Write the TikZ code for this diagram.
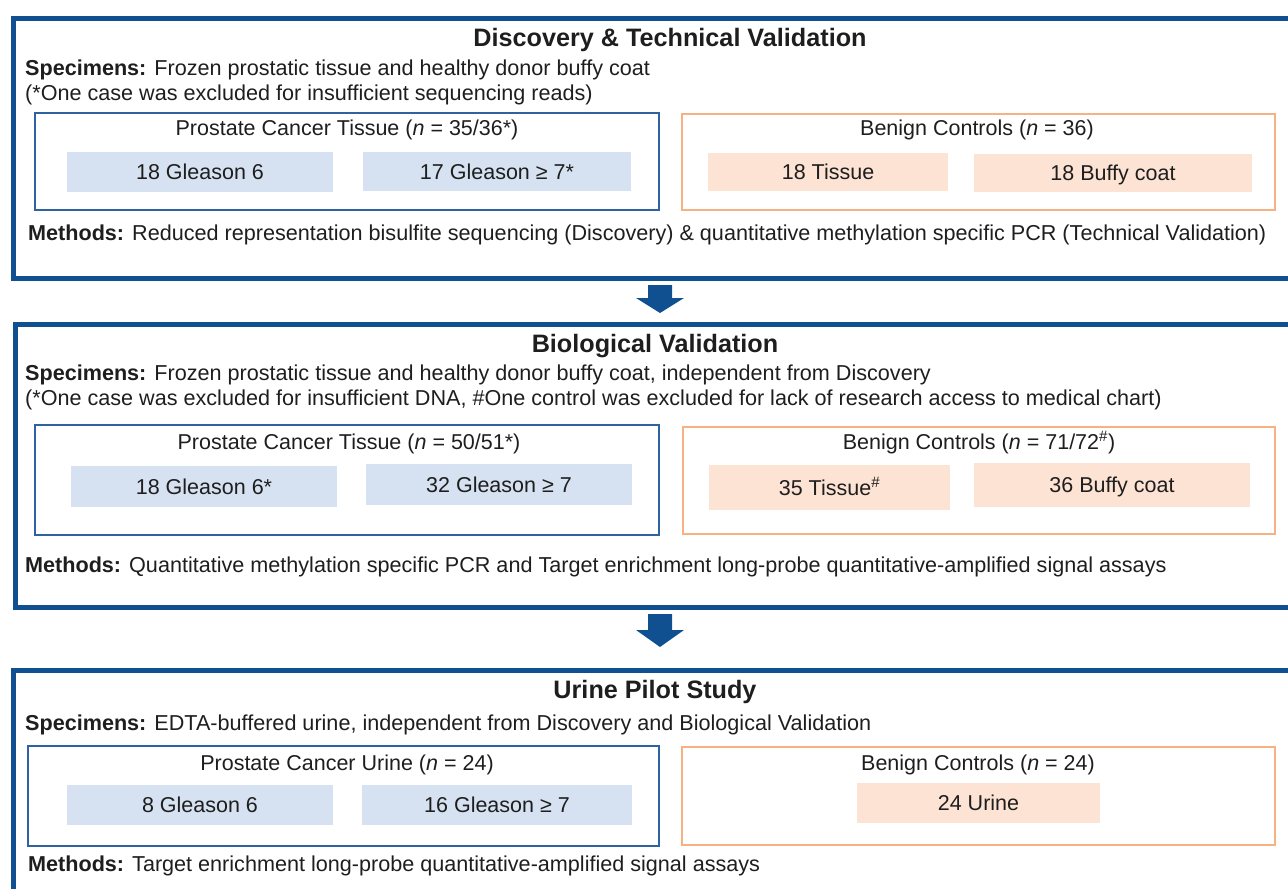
\documentclass[tikz,border=0pt]{standalone}
\usepackage{fontspec}
\setmainfont{Liberation Sans}
\usepackage{tikz}
\usetikzlibrary{positioning}
\definecolor{stageblue}{RGB}{16,80,144}
\definecolor{groupblue}{RGB}{46,98,160}
\definecolor{grouporange}{RGB}{246,178,130}
\definecolor{cellblue}{RGB}{214,226,241}
\definecolor{cellpeach}{RGB}{253,227,212}
\definecolor{inktext}{RGB}{30,30,30}

\begin{document}
\begin{tikzpicture}[x=1pt, y=-1pt,
    stage/.style={draw=stageblue, line width=5pt, anchor=north west,
                  inner sep=0pt, minimum width=1300pt},
    cancer/.style={draw=groupblue, line width=2.5pt, inner sep=0pt},
    benign/.style={draw=grouporange, line width=2.5pt, inner sep=0pt},
    gleason/.style={fill=cellblue, inner sep=0pt, text height=15.5pt, text depth=0pt,
                    font=\fontsize{21.5}{26}\selectfont, text=inktext},
    control/.style={gleason, fill=cellpeach},
    heading/.style={anchor=base, inner sep=0pt, text=inktext,
                    font=\fontsize{21.5}{26}\selectfont},
    stagetitle/.style={anchor=base, inner sep=0pt, text=inktext,
                       font=\fontsize{25.2}{30}\selectfont\bfseries},
    textline/.style={anchor=base west, inner sep=0pt, text=inktext,
                     font=\fontsize{21.6}{26}\selectfont},
    flow/.style={fill=stageblue},
]
\useasboundingbox (0,0) rectangle (1288,889);
\clip (0,0) rectangle (1288,889);

% Discovery & Technical Validation
\node[stage, minimum height=260pt] (disc) at (10.5,15.5) {};
\node[stagetitle] (disctitle) at (670,46) {Discovery \& Technical Validation};
\node[textline] (discspec) at (25,75) {\textbf{Specimens:} Frozen prostatic tissue and healthy donor buffy coat};
\node[textline] (discnote) at (25,100) {(*One case was excluded for insufficient sequencing reads)};
\node[cancer, minimum width=624pt, minimum height=97pt] (disccan) at (347,161.5) {};
\node[heading] (disccanhead) at (347,135) {Prostate Cancer Tissue (\textit{n} = 35/36*)};
\node[gleason, minimum width=266pt, minimum height=40pt] (discga) at (200,172) {18 Gleason 6};
\node[gleason, minimum width=268pt, minimum height=39pt] (discgb) at (497,171.5) {17 Gleason ≥ 7*};
\node[benign, minimum width=593pt, minimum height=96pt] (discben) at (978.5,162) {};
\node[heading] (discbenhead) at (977,135) {Benign Controls (\textit{n} = 36)};
\node[control, minimum width=240pt, minimum height=38pt] (disctis) at (828,172) {18 Tissue};
\node[control, minimum width=278pt, minimum height=38pt] (discbuf) at (1113,173) {18 Buffy coat};
\node[textline] (discmeth) at (28,240) {\textbf{Methods:} Reduced representation bisulfite sequencing (Discovery) \& quantitative methylation specific PCR (Technical Validation)};

% block arrows between the stages
\coordinate (flowa) at (660,285);
\fill[flow] (flowa) ++(-12,0) -- ++(24,0) -- ++(0,13) -- ++(12,0) -- ++(-24,15)
    -- ++(-24,-15) -- ++(12,0) -- cycle;

% Biological Validation
\node[stage, minimum height=282.5pt] (bio) at (12.5,322) {};
\node[stagetitle] (biotitle) at (655,352) {Biological Validation};
\node[textline] (biospec) at (25,380) {\textbf{Specimens:} Frozen prostatic tissue and healthy donor buffy coat, independent from Discovery};
\node[textline] (bionote) at (25,405) {(*One case was excluded for insufficient DNA, \#One control was excluded for lack of research access to medical chart)};
\node[cancer, minimum width=624pt, minimum height=110pt] (biocan) at (347,480) {};
\node[heading] (biocanhead) at (349,449) {Prostate Cancer Tissue (\textit{n} = 50/51*)};
\node[gleason, minimum width=266pt, minimum height=41pt] (bioga) at (204,486.5) {18 Gleason 6*};
\node[gleason, minimum width=266pt, minimum height=41pt] (biogb) at (499,484.5) {32 Gleason ≥ 7};
\node[benign, minimum width=592pt, minimum height=107pt] (bioben) at (979,480.5) {};
\node[heading] (biobenhead) at (979,449) {Benign Controls (\textit{n} = 71/72\textsuperscript{\#})};
\node[control, minimum width=241pt, minimum height=45pt] (biotis) at (829.5,487.5) {35 Tissue\textsuperscript{\#}};
\node[control, minimum width=276pt, minimum height=44pt] (biobuf) at (1112,485) {36 Buffy coat};
\node[textline] (biometh) at (25,572) {\textbf{Methods:} Quantitative methylation specific PCR and Target enrichment long-probe quantitative-amplified signal assays};

\coordinate (flowb) at (660,614);
\fill[flow] (flowb) ++(-12,0) -- ++(24,0) -- ++(0,16) -- ++(12,0) -- ++(-24,17)
    -- ++(-24,-17) -- ++(12,0) -- cycle;

% Urine Pilot Study
\node[stage, minimum height=300pt] (uri) at (10.5,668) {};
\node[stagetitle] (urititle) at (655,698) {Urine Pilot Study};
\node[textline] (urispec) at (25,730) {\textbf{Specimens:} EDTA-buffered urine, independent from Discovery and Biological Validation};
\node[cancer, minimum width=631pt, minimum height=100pt] (urican) at (343.5,796) {};
\node[heading] (uricanhead) at (347,770) {Prostate Cancer Urine (\textit{n} = 24)};
\node[gleason, minimum width=266pt, minimum height=40pt] (uriga) at (200,805) {8 Gleason 6};
\node[gleason, minimum width=270pt, minimum height=40pt] (urigb) at (497,805) {16 Gleason ≥ 7};
\node[benign, minimum width=593pt, minimum height=98pt] (uriben) at (978.5,796) {};
\node[heading] (uribenhead) at (978,770) {Benign Controls (\textit{n} = 24)};
\node[control, minimum width=243pt, minimum height=40pt] (uriurine) at (978.5,803) {24 Urine};
\node[textline] (urimeth) at (28,871) {\textbf{Methods:} Target enrichment long-probe quantitative-amplified signal assays};

\end{tikzpicture}
\end{document}
